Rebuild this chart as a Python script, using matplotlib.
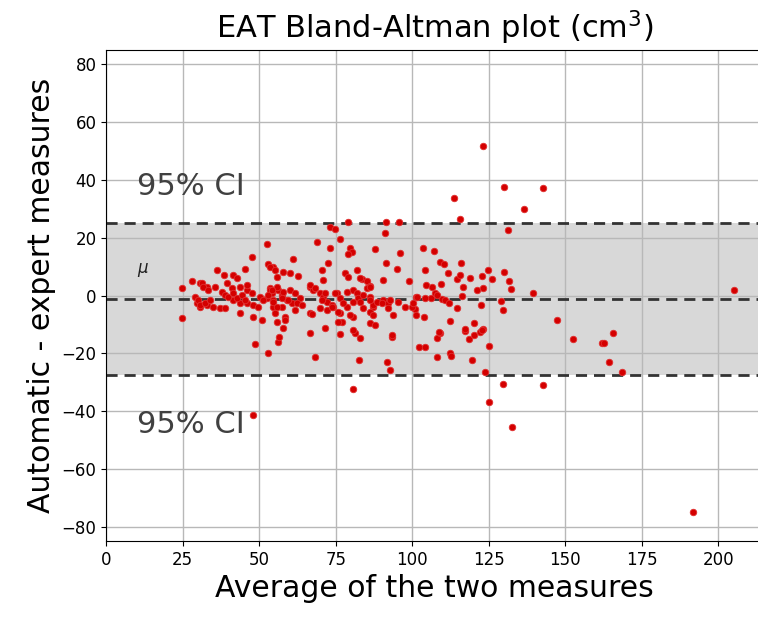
import numpy as np
import matplotlib
matplotlib.use("Agg")
import matplotlib.pyplot as plt

# average of the two measures / difference (automatic - expert)
avg_vals = [
    123.2, 113.7, 115.7, 130.0, 142.8, 136.6, 131.4,
    139.5, 147.4, 152.6, 161.8, 162.7, 165.7, 164.4, 168.6, 191.8, 205.2,
    48.0, 80.7, 129.7, 142.8, 125.2, 132.7, 123.9, 125.2, 119.6, 112.4, 112.7,
    108.2, 102.3, 108.0, 109.0, 118.6, 120.3, 122.2, 117.3,
    48.7, 52.9, 56.2, 56.6, 66.7, 68.3, 76.5, 81.4, 83.0, 82.7, 93.5, 91.8,
    92.8, 104.2,
    103.6, 107.2, 109.2, 110.5, 116.0, 104.2, 111.8, 114.7, 115.7, 118.9,
    122.8, 124.8, 126.1, 130.0, 131.7, 132.1, 99.0, 104.6, 106.5, 109.5,
    116.7, 121.2, 123.2, 101.3, 106.2, 107.5, 109.8, 110.8, 112.1, 116.3,
    114.7, 122.5, 129.0, 129.7, 97.7, 101.0, 101.3, 103.9, 112.4, 117.3,
    120.3, 108.8,
    73.2, 74.8, 79.1, 91.5, 95.8, 91.2, 76.5, 69.0, 52.6, 73.2, 79.7, 80.4,
    79.1, 87.9, 96.1, 47.7, 61.1, 72.5, 91.5, 95.1, 82.0, 36.3, 45.4, 52.9,
    54.6, 57.8, 60.1, 62.7, 70.6, 78.1, 79.1, 83.7, 85.3, 90.5, 38.6, 41.5,
    42.8, 55.9, 24.8, 28.1, 30.7, 33.0, 35.6, 39.5, 41.2, 43.8, 46.1, 47.7,
    50.3, 52.6, 53.6, 54.2, 56.2, 57.5, 59.2, 60.8, 63.4, 66.7, 67.6, 69.9,
    70.9, 72.2, 73.9, 75.5, 76.5, 80.7, 82.0, 82.4, 85.3, 87.3, 90.5, 92.2,
    93.8, 100.0, 101.6, 104.2, 24.8, 29.7, 30.7, 33.0, 35.0, 37.3, 38.9,
    41.5, 43.8, 46.1, 48.0, 49.7, 43.8, 48.0, 51.0, 54.6, 55.2, 55.9, 57.5,
    58.5, 61.8, 66.7, 69.9, 72.2, 74.2, 76.5, 77.1, 78.8, 80.7, 84.0, 86.3,
    87.9, 93.5, 80.7,
    83.0, 86.3, 53.6, 55.2, 70.9, 66.7, 68.3, 71.6, 74.8, 78.8, 84.0, 86.3,
    53.6, 55.9, 57.8, 60.1, 61.8, 54.6, 57.5, 59.5, 62.4, 64.1, 70.6, 73.9,
    77.5, 80.7, 83.0, 87.3, 58.5, 67.3, 75.8, 75.8, 79.7, 57.8, 71.6,
    86.3, 108.2, 86.3, 88.6, 90.2, 92.8, 95.4, 100.3, 86.3, 87.3, 92.2,
    123.2, 122.9,
    31.4, 31.7, 33.3, 46.1, 37.9, 38.9, 29.1, 30.1, 30.7, 32.4, 34.0, 39.9,
    41.5, 42.8, 44.4, 45.4, 51.3, 52.9, 54.2, 54.6, 55.9,
]
diff_vals = [
    51.7, 33.7, 26.4, 37.5, 37.1, 29.9, 22.6,
    0.9, -8.5, -15.0, -16.4, -16.4, -13.0, -23.0, -26.4, -74.8, 1.9,
    -41.3, -32.3, -30.6, -31.0, -36.8, -45.4, -26.4, -17.4, -22.3, -19.9, -20.9,
    -21.2, -17.8, -14.7, -13.0, -15.0, -13.6, -12.6, -12.3,
    -16.8, -19.9, -16.0, -14.3, -13.0, -21.3, -13.3, -13.0, -14.7, -22.3, -14.3, -23.0,
    -25.7, -17.8,
    16.4, 15.4, 11.6, 10.9, 11.2, 8.8, 7.8, 5.7, 7.1, 6.0,
    6.7, 8.8, 5.7, 8.1, 5.0, 2.3, 5.0, 3.6, 2.9, 4.0,
    3.0, 1.9, 2.6, -0.5, -0.9, 0.9, -1.2, -1.5, -2.6, 0.0,
    -4.3, -3.3, -1.9, -5.0, -4.0, -4.7, -6.7, -7.4, -8.8, -11.5,
    -9.5, -12.6,
    23.7, 23.0, 25.4, 25.4, 25.4, 21.6, 19.5, 18.5, 17.8, 16.4, 16.4, 15.0,
    14.3, 16.0, 14.7, 13.3, 12.6, 11.2, 11.2, 9.2, 8.8, 8.8, 9.2, 10.9,
    9.9, 8.1, 7.8, 6.7, 8.8, 7.8, 6.4, 5.7, 5.0, 5.4, 7.1, 7.1,
    6.0, 6.4, 2.6, 5.0, 4.3, 2.9, 2.9, 4.3, 2.6, 2.9, 1.9, 0.9,
    -0.5, -0.9, 2.6, 0.9, 1.9, 0.2, -1.5, -2.6, -0.9, 2.9, 1.9, 0.9,
    -0.5, -2.2, -3.3, 0.9, -0.9, 1.9, 0.9, -0.9, 2.6, -4.0, -1.5, -2.6,
    -6.7, -4.0, -0.5, -0.9, -7.8, -2.6, -4.0, -3.3, -4.0, -4.3, -4.3,
    -1.5, -2.6, -2.6, -3.3, -4.0, -6.0, -7.4, -8.5, -4.0, -6.0, -9.1, -4.0,
    -7.4, -5.0, -6.0, -4.3, -5.0, -4.0, -6.0, -9.1, -4.0, -7.4, -4.3, -9.5,
    -10.2, -13.6, -12.0,
    6.0, 3.3, 9.9, 8.8, 5.4, 3.6, 2.6, 0.9, 0.9, 1.2, 0.2, -0.5,
    1.9, 2.9, 1.2, 1.9, 0.9, -1.5, -0.9, -1.5, -2.6, -3.3, -1.5, -4.0,
    -2.6, -2.2, -2.2, -3.3, -8.5, -6.4, -5.7, -9.1, -6.7, -11.2, -11.2,
    2.9, 0.2, -1.5, -2.2, -2.6, -1.5, -2.2, -2.6, -5.7, -6.7, -4.3,
    -11.6, -12.0,
    4.3, 2.9, 1.9, 3.6, 1.2, 0.2, -0.5, -1.5, -3.3, -2.6, -1.5, -0.5,
    0.9, -0.9, 0.2, -1.5, -1.5, 0.2, 1.9, -2.2, -4.0,
]

mean_diff = -1.2
upper_ci = 25.1
lower_ci = -27.5

fig = plt.figure(figsize=(7.58, 6.17), dpi=100)
# right edge runs just past the figure, so the right spine is cut off
ax = fig.add_axes([0.140, 0.123, 0.866, 0.796])
ax.spines["right"].set_visible(False)

ax.axhspan(lower_ci, upper_ci, color="gray", alpha=0.3, lw=0, zorder=1)
for yv in (upper_ci, mean_diff, lower_ci):
    ax.axhline(yv, color="#333333", ls="--", lw=2, dashes=(4, 2.5), zorder=2)

ax.scatter(avg_vals, diff_vals, s=22, color="#d40000", edgecolors="#e03030",
           linewidths=0.6, zorder=3)

ax.text(10, 34.7, "95% CI", fontsize=22, color="#404040")
ax.text(10, -47.5, "95% CI", fontsize=22, color="#404040")
ax.text(10, 7.8, r"$\mu$", fontsize=12, color="#202020")

ax.set_xlim(0, 214.4)
ax.set_ylim(-85, 85)
ax.set_xticks(np.arange(0, 201, 25))
ax.set_yticks(np.arange(-80, 81, 20))
ax.tick_params(labelsize=12)
ax.grid(True, color="#b8b8b8", lw=1)

ax.set_title("EAT Bland-Altman plot (cm$^3$)", fontsize=22, pad=8)
ax.set_xlabel("Average of the two measures", fontsize=21.5)
ax.set_ylabel("Automatic - expert measures", fontsize=21.5)

fig.savefig("out.png", dpi=100)
